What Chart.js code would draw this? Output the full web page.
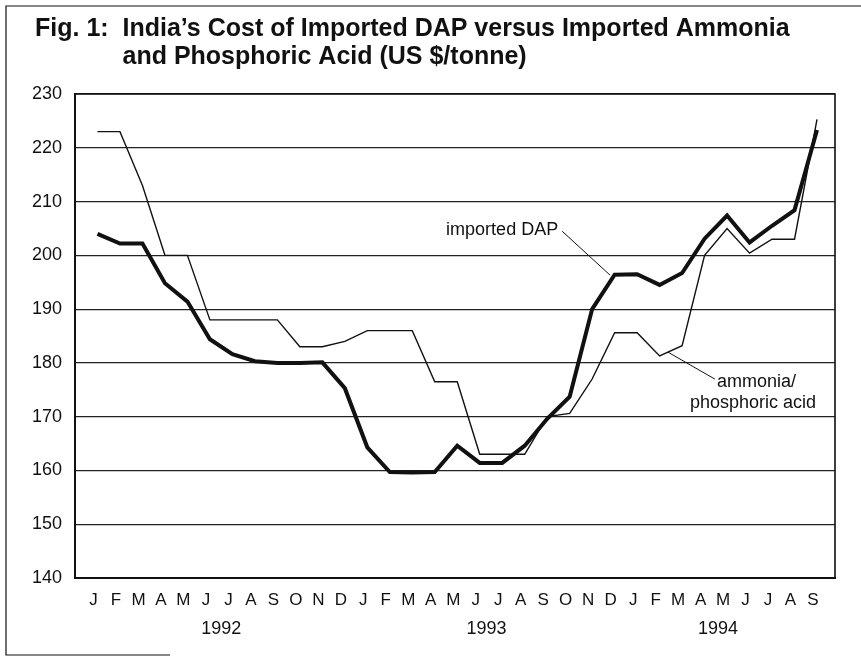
<!DOCTYPE html>
<html>
<head>
<meta charset="utf-8">
<script src="https://cdn.jsdelivr.net/npm/chart.js@4.4.1/dist/chart.umd.min.js"></script>
<style>
  html, body { margin: 0; padding: 0; background: #fff; }
  canvas { display: block; }
</style>
</head>
<body>
<canvas id="dapChart" width="861" height="660"></canvas>
<script>
// Jan 1992 .. Sep 1994, one letter per month
const months = ["J","F","M","A","M","J","J","A","S","O","N","D",
                "J","F","M","A","M","J","J","A","S","O","N","D",
                "J","F","M","A","M","J","J","A","S"];
const years = ["1992", "1993", "1994"];
const yearMidMonth = [5.5, 17.3, 27.6]; // month index the year label is centred under

// US $/tonne
const importedDap = [204, 202.2, 202.2, 194.8, 191.4, 184.4, 181.6, 180.3, 180, 180, 180.1,
                     175.3, 164.3, 159.7, 159.6, 159.7, 164.6, 161.4, 161.4, 164.6, 169.6,
                     173.7, 190, 196.4, 196.5, 194.5, 196.7, 203.1, 207.4, 202.4, 205.5, 208.4, 223.3];
const ammoniaAcid = [223, 223, 213, 200, 200, 188, 188, 188, 188, 183, 183,
                     184, 186, 186, 186, 176.5, 176.5, 163, 163, 163, 170,
                     170.6, 177, 185.6, 185.6, 181.3, 183.2, 200, 205, 200.4, 203, 203, 225.3];
const yTicks = [140, 150, 160, 170, 180, 190, 200, 210, 220, 230];

const FONT = "'Liberation Sans', Arial, Helvetica, sans-serif";
const INK = "#111";

const decorPlugin = {
  id: "decor",
  afterDraw(chart) {
    const { ctx, chartArea: a, scales: { x, y } } = chart;
    ctx.save();
    ctx.strokeStyle = INK;
    ctx.fillStyle = INK;

    // top and right side of the plot box
    ctx.lineWidth = 1.6;
    ctx.beginPath();
    ctx.moveTo(a.left, a.top);
    ctx.lineTo(a.right, a.top);
    ctx.lineTo(a.right, a.bottom);
    ctx.stroke();

    // page frame round the figure
    ctx.lineWidth = 1.2;
    ctx.beginPath();
    ctx.moveTo(861, 6);
    ctx.lineTo(6, 6);
    ctx.lineTo(6, 655);
    ctx.lineTo(170, 655);
    ctx.stroke();

    // title, second line indented under "India's"
    ctx.font = "bold 25px " + FONT;
    ctx.textAlign = "left";
    ctx.textBaseline = "alphabetic";
    const lead = "Fig. 1:  ";
    ctx.fillText(lead + "India\u2019s Cost of Imported DAP versus Imported Ammonia", 35, 36);
    ctx.fillText("and Phosphoric Acid (US $/tonne)", 35 + ctx.measureText(lead).width, 64);

    // year labels under the month letters
    ctx.font = "18px " + FONT;
    ctx.textAlign = "center";
    years.forEach((yr, k) => {
      ctx.fillText(yr, x.getPixelForValue(yearMidMonth[k]), 634);
    });

    // line labels with leader lines
    ctx.lineWidth = 1;
    const dapX = x.getPixelForValue(22.8), dapY = y.getPixelForValue(196.3);
    ctx.beginPath();
    ctx.moveTo(dapX, dapY);
    ctx.lineTo(dapX - 48, dapY - 44);
    ctx.stroke();
    ctx.textAlign = "right";
    ctx.fillText("imported DAP", dapX - 52, dapY - 40);

    const amX = x.getPixelForValue(25.37), amY = y.getPixelForValue(182);
    ctx.beginPath();
    ctx.moveTo(amX, amY);
    ctx.lineTo(amX + 47, amY + 27);
    ctx.stroke();
    ctx.textAlign = "left";
    ctx.fillText("ammonia/", amX + 49, amY + 35);
    ctx.fillText("phosphoric acid", amX + 22, amY + 56);

    ctx.restore();
  }
};

const ctx = document.getElementById("dapChart").getContext("2d");
new Chart(ctx, {
  type: "line",
  data: {
    datasets: [
      {
        label: "imported DAP",
        data: importedDap.map((v, i) => ({ x: i, y: v })),
        borderColor: INK,
        borderWidth: 4,
        pointRadius: 0,
        tension: 0,
      },
      {
        label: "ammonia/phosphoric acid",
        data: ammoniaAcid.map((v, i) => ({ x: i, y: v })),
        borderColor: INK,
        borderWidth: 1.4,
        pointRadius: 0,
        tension: 0,
      },
    ],
  },
  options: {
    responsive: false,
    animation: false,
    layout: { padding: { left: 0, top: 94, right: 26, bottom: 42 } },
    plugins: {
      legend: { display: false },
      tooltip: { enabled: false },
    },
    scales: {
      x: {
        type: "linear",
        min: -1,
        max: 32.8,
        afterBuildTicks: (scale) => {
          scale.ticks = months.map((m, i) => ({ value: i }));
        },
        afterFit: (scale) => { scale.height = 40; },
        ticks: {
          callback: (v) => months[v],
          autoSkip: false,
          maxRotation: 0,
          labelOffset: -4,
          padding: 4,
          color: INK,
          font: { family: FONT, size: 17 },
        },
        grid: { display: false },
        border: { color: INK, width: 2 },
      },
      y: {
        min: 140,
        max: 230,
        afterBuildTicks: (scale) => {
          scale.ticks = yTicks.map((v) => ({ value: v }));
        },
        afterFit: (scale) => { scale.width = 75; },
        ticks: {
          padding: 13,
          color: INK,
          font: { family: FONT, size: 18 },
        },
        grid: { color: "#222", lineWidth: 1.2, drawTicks: false },
        border: { color: INK, width: 2 },
      },
    },
  },
  plugins: [decorPlugin],
});
</script>
</body>
</html>
